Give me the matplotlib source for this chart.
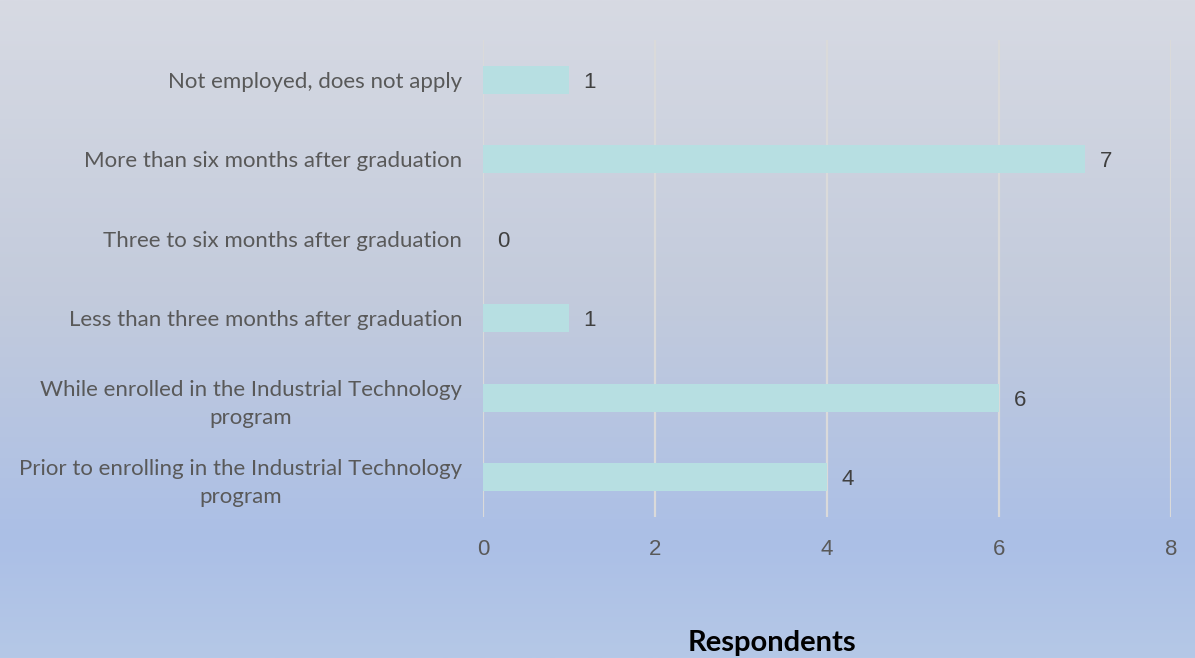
import numpy as np
import matplotlib
matplotlib.use("Agg")
import matplotlib.pyplot as plt
from matplotlib.colors import LinearSegmentedColormap

categories = [
    "Prior to enrolling in the Industrial Technology\nprogram",
    "While enrolled in the Industrial Technology\nprogram",
    "Less than three months after graduation",
    "Three to six months after graduation",
    "More than six months after graduation",
    "Not employed, does not apply",
]
values = [4, 6, 1, 0, 7, 1]
xticks = [0, 2, 4, 6, 8]
xlabel = "Respondents"

W, H = 1195, 658
fig = plt.figure(figsize=(W / 100, H / 100), dpi=100)

# gradient background
bg = fig.add_axes([0, 0, 1, 1], zorder=0)
cmap = LinearSegmentedColormap.from_list(
    "bg", [(0.0, "#d7dae3"), (0.45, "#c3cbdc"), (0.82, "#abbfe6"), (1.0, "#b5c8e7")]
)
grad = np.linspace(0, 1, 256).reshape(-1, 1)
bg.imshow(grad, aspect="auto", cmap=cmap, extent=[0, 1, 0, 1], origin="upper")
bg.set_axis_off()

left, right = 483 / W, 1171 / W
top, bottom = 40 / H, 517 / H
ax = fig.add_axes([left, 1 - bottom, right - left, bottom - top], zorder=1)
ax.patch.set_alpha(0)

y = np.arange(len(categories))
ax.barh(y, values, height=0.35, color="#b7dfe2", zorder=2)
ax.set_xlim(0, 8)
ax.set_ylim(-0.5, len(categories) - 0.5)
ax.set_xticks(xticks)
ax.set_yticks(y)
ax.set_yticklabels(categories, fontfamily="Lato", fontsize=16, color="#595959",
                   ha="right", multialignment="center", linespacing=1.5)
ax.tick_params(axis="y", length=0, pad=15)
ax.tick_params(axis="x", length=0, pad=16, labelsize=16, labelcolor="#595959")
for lbl in ax.get_xticklabels():
    lbl.set_fontfamily("Liberation Sans")

ax.grid(axis="x", color="#dadada", linewidth=1.6, zorder=1)
ax.set_axisbelow(True)
for s in ax.spines.values():
    s.set_visible(False)

for yi, v in zip(y, values):
    ax.text(v + 0.17, yi, str(v), va="center_baseline", ha="left", fontsize=16,
            color="#404040", fontfamily="Liberation Sans", zorder=3)

fig.text(772 / W, 1 - 651 / H, xlabel, ha="center", va="baseline",
         fontsize=21, fontweight="bold", fontfamily="Lato", color="#000000")

fig.savefig("out.png", dpi=100)
